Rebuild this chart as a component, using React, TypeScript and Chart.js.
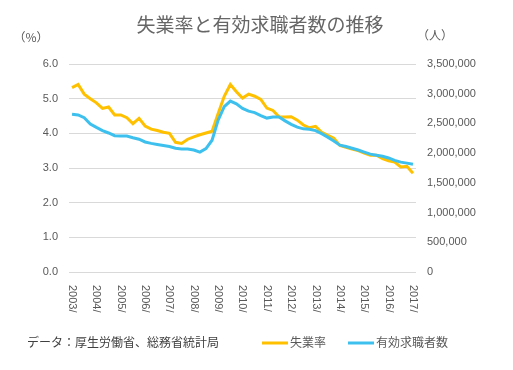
import React, { useEffect, useRef } from "react";
import { Chart, registerables } from "chart.js";

Chart.register(...registerables);

const titleText = "失業率と有効求職者数の推移";
const leftUnit = "（%）";
const rightUnit = "（人）";
const sourceText = "データ：厚生労働省、総務省統計局";
const seriesNames = ["失業率", "有効求職者数"];

const yearLabels = [
  "2003/", "2004/", "2005/", "2006/", "2007/", "2008/", "2009/", "2010/",
  "2011/", "2012/", "2013/", "2014/", "2015/", "2016/", "2017/",
];
const quarterNames = ["Q1", "Q2", "Q3", "Q4"];

// quarterly, 2003 Q1 .. 2017 Q1
const categories: string[] = [];
yearLabels.forEach((y, yi) => {
  quarterNames.forEach((q, qi) => {
    if (yi < yearLabels.length - 1 || qi === 0) categories.push(y + q);
  });
});

const unemploymentRate = [
  5.32, 5.41, 5.13, 5.0, 4.88, 4.72, 4.76, 4.53, 4.53, 4.45, 4.28, 4.43,
  4.21, 4.12, 4.08, 4.03, 4.0, 3.74, 3.71, 3.83, 3.9, 3.96, 4.01, 4.06,
  4.57, 5.07, 5.41, 5.2, 5.02, 5.13, 5.07, 4.98, 4.73, 4.66, 4.48, 4.47,
  4.48, 4.38, 4.24, 4.16, 4.2, 4.03, 3.94, 3.86, 3.65, 3.6, 3.55, 3.5,
  3.43, 3.37, 3.37, 3.27, 3.21, 3.17, 3.03, 3.05, 2.85,
];

const jobSeekers = [
  2654000, 2643000, 2596000, 2491000, 2433000, 2380000, 2339000, 2293000,
  2287000, 2287000, 2258000, 2234000, 2188000, 2164000, 2147000, 2129000,
  2112000, 2083000, 2071000, 2071000, 2053000, 2018000, 2077000, 2217000,
  2555000, 2783000, 2876000, 2829000, 2753000, 2707000, 2683000, 2631000,
  2590000, 2608000, 2608000, 2543000, 2485000, 2438000, 2409000, 2403000,
  2380000, 2328000, 2269000, 2205000, 2135000, 2112000, 2083000, 2053000,
  2018000, 1983000, 1966000, 1948000, 1919000, 1878000, 1849000, 1832000,
  1814000,
];

const ORANGE = "#FFC000";
const BLUE = "#3DC0EE";
const TEXT = "#595959";
const JP = "'Noto Sans CJK JP', 'Noto Sans', sans-serif";
const NUM = "'Liberation Sans', Arial, sans-serif";

const overlayPlugin = {
  id: "overlay",
  afterDraw(chart: any) {
    const ctx = chart.ctx as CanvasRenderingContext2D;
    const area = chart.chartArea;
    const xs = chart.scales.x;
    ctx.save();
    ctx.fillStyle = TEXT;

    // rotated year labels
    ctx.font = `11px ${NUM}`;
    ctx.textAlign = "left";
    ctx.textBaseline = "middle";
    yearLabels.forEach((lab, k) => {
      const px = xs.getPixelForValue(k * 4);
      ctx.save();
      ctx.translate(px, area.bottom + 13);
      ctx.rotate(Math.PI / 2);
      ctx.fillText(lab, 0, 0);
      ctx.restore();
    });

    // title
    ctx.font = `19px ${JP}`;
    ctx.fillStyle = "#666666";
    ctx.textAlign = "center";
    ctx.fillText(titleText, 260, 25);

    // unit labels
    ctx.fillStyle = TEXT;
    ctx.font = `12px ${JP}`;
    ctx.fillText(leftUnit, 31, 37);
    ctx.fillText(rightUnit, 435, 35);

    // source
    ctx.textAlign = "left";
    ctx.fillStyle = "#404040";
    ctx.fillText(sourceText, 27, 342);

    // legend
    ctx.fillStyle = TEXT;
    const legendItems = [
      { name: seriesNames[0], color: ORANGE, x: 262 },
      { name: seriesNames[1], color: BLUE, x: 348 },
    ];
    legendItems.forEach((it) => {
      ctx.strokeStyle = it.color;
      ctx.lineWidth = 3;
      ctx.beginPath();
      ctx.moveTo(it.x, 343);
      ctx.lineTo(it.x + 26, 343);
      ctx.stroke();
      ctx.fillText(it.name, it.x + 28, 342);
    });
    ctx.restore();
  },
};

export default function App() {
  const ref = useRef<HTMLCanvasElement | null>(null);

  useEffect(() => {
    if (!ref.current) return;
    const chart = new Chart(ref.current, {
      type: "line",
      data: {
        labels: categories,
        datasets: [
          {
            label: seriesNames[0],
            data: unemploymentRate,
            borderColor: ORANGE,
            backgroundColor: ORANGE,
            borderWidth: 3,
            pointRadius: 0,
            tension: 0,
            yAxisID: "y",
            order: 2,
          },
          {
            label: seriesNames[1],
            data: jobSeekers,
            borderColor: BLUE,
            backgroundColor: BLUE,
            borderWidth: 3,
            pointRadius: 0,
            tension: 0,
            yAxisID: "y1",
            order: 1,
          },
        ],
      },
      options: {
        responsive: true,
        maintainAspectRatio: false,
        animation: false,
        layout: { padding: { top: 64, left: 0, right: 0, bottom: 0 } },
        plugins: {
          legend: { display: false },
          title: { display: false },
          tooltip: { enabled: false },
        },
        scales: {
          x: {
            type: "category",
            offset: true,
            grid: { display: false, drawTicks: false },
            border: { display: false },
            ticks: { display: false },
            afterFit: (s: any) => {
              s.height = 98;
            },
          },
          y: {
            position: "left",
            min: 0,
            max: 6,
            ticks: {
              stepSize: 1,
              padding: 11,
              color: TEXT,
              font: { family: NUM, size: 11 },
              callback: (v: any) => Number(v).toFixed(1),
            },
            grid: { color: "#D9D9D9", lineWidth: 1, drawTicks: false },
            border: { display: false },
            afterFit: (s: any) => {
              s.width = 69;
            },
          },
          y1: {
            position: "right",
            min: 0,
            max: 3500000,
            ticks: {
              stepSize: 500000,
              padding: 11,
              color: TEXT,
              font: { family: NUM, size: 11 },
              callback: (v: any) => Number(v).toLocaleString("en-US"),
            },
            grid: { display: false, drawTicks: false },
            border: { display: false },
            afterFit: (s: any) => {
              s.width = 97;
            },
          },
        },
      },
      plugins: [overlayPlugin],
    });
    return () => chart.destroy();
  }, []);

  return (
    <div
      style={{
        position: "fixed",
        left: 0,
        top: 0,
        width: 513,
        height: 370,
        background: "#fff",
      }}
    >
      <canvas ref={ref} />
    </div>
  );
}
